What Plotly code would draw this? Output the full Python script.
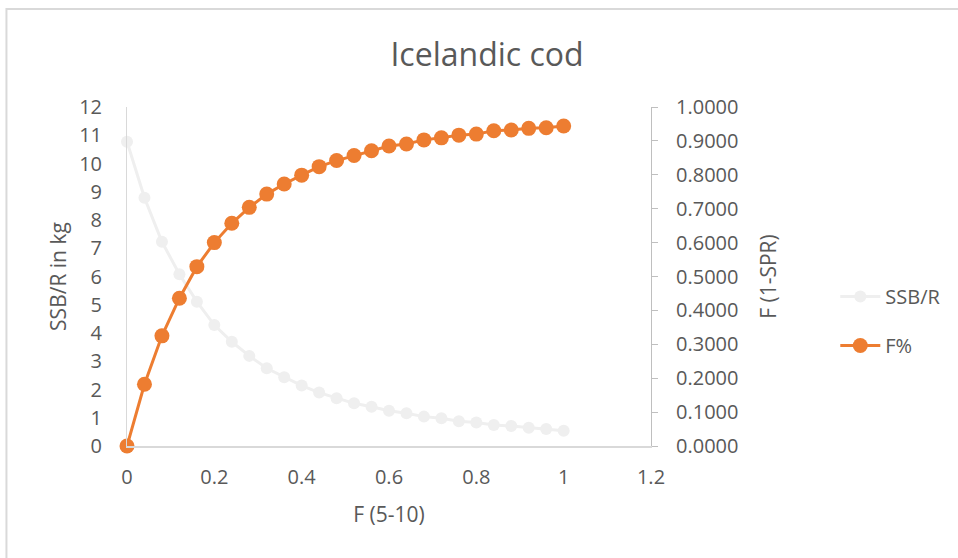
import plotly.graph_objects as go

# Fishing mortality (ages 5-10)
fishing_mortality = [0.00, 0.04, 0.08, 0.12, 0.16, 0.20, 0.24, 0.28, 0.32, 0.36,
                     0.40, 0.44, 0.48, 0.52, 0.56, 0.60, 0.64, 0.68, 0.72, 0.76,
                     0.80, 0.84, 0.88, 0.92, 0.96, 1.00]

# Spawning stock biomass per recruit (kg)
ssb_per_recruit = [10.77, 8.79, 7.23, 6.08, 5.11, 4.28, 3.69, 3.19, 2.75, 2.43,
                   2.14, 1.89, 1.69, 1.51, 1.39, 1.25, 1.16, 1.04, 0.98, 0.88,
                   0.83, 0.74, 0.71, 0.65, 0.60, 0.54]

# F% expressed as 1 - SPR
f_percent = [0.000, 0.182, 0.325, 0.436, 0.529, 0.600, 0.657, 0.704, 0.743, 0.773,
             0.799, 0.824, 0.842, 0.857, 0.871, 0.885, 0.891, 0.903, 0.909, 0.917,
             0.920, 0.930, 0.932, 0.937, 0.939, 0.944]

x_ticks = [0, 0.2, 0.4, 0.6, 0.8, 1, 1.2]
x_tick_text = ["0", "0.2", "0.4", "0.6", "0.8", "1", "1.2"]

FONT = "Open Sans, Segoe UI, sans-serif"
TEXT = "#595959"
ORANGE = "#ED7D31"
LIGHT = "#EFEFEF"

fig = go.Figure()

fig.add_trace(go.Scatter(
    x=fishing_mortality, y=ssb_per_recruit, name="SSB/R",
    mode="lines+markers", legendgroup="a", cliponaxis=False,
    line=dict(color=LIGHT, width=3),
    marker=dict(color=LIGHT, size=12),
    yaxis="y",
))

fig.add_trace(go.Scatter(
    x=fishing_mortality, y=f_percent, name="F%",
    mode="lines+markers", legendgroup="b", cliponaxis=False,
    line=dict(color=ORANGE, width=3),
    marker=dict(color=ORANGE, size=15),
    yaxis="y2",
))

fig.update_layout(
    width=958, height=558,
    margin=dict(l=127, r=305, t=107, b=112),
    paper_bgcolor="white", plot_bgcolor="white",
    font=dict(family=FONT, color=TEXT, size=20),
    showlegend=True,
    title=dict(text="Icelandic cod", x=487 / 958, xref="container", xanchor="center",
               y=1 - 55 / 558, yref="container", yanchor="middle",
               font=dict(size=32, color=TEXT, family=FONT)),
    xaxis=dict(
        range=[0, 1.2], tickvals=x_ticks, ticktext=x_tick_text,
        showgrid=False, zeroline=False,
        showline=True, linecolor="#D9D9D9", linewidth=2,
        ticks="", ticklabelstandoff=12,
        tickfont=dict(size=20, color=TEXT),
        title=dict(text="F (5-10)", font=dict(size=21, color=TEXT), standoff=18),
    ),
    yaxis=dict(
        range=[0, 12], tickvals=list(range(0, 13)),
        showgrid=False, zeroline=False,
        showline=True, linecolor="#D9D9D9", linewidth=1,
        ticks="", ticklabelstandoff=20,
        tickfont=dict(size=20, color=TEXT),
        title=dict(text="SSB/R in kg", font=dict(size=21, color=TEXT), standoff=6),
    ),
    yaxis2=dict(
        range=[0, 1], tickvals=[i / 10 for i in range(11)], tickformat=".4f",
        overlaying="y", side="right",
        showgrid=False, zeroline=False,
        showline=True, linecolor="#BFBFBF", linewidth=1,
        ticks="outside", ticklen=6, tickcolor="#BFBFBF",
        ticklabelstandoff=14,
        tickfont=dict(size=20, color=TEXT),
        title=dict(text="F (1-SPR)", font=dict(size=21, color=TEXT), standoff=23),
    ),
    legend=dict(
        x=(838 - 127) / 526, xanchor="left",
        y=(446 - 321) / 339, yanchor="middle",
        traceorder="grouped", tracegroupgap=20, itemwidth=40,
        font=dict(size=20, color=TEXT),
        bgcolor="rgba(0,0,0,0)",
    ),
    shapes=[dict(
        type="rect", xref="paper", yref="paper",
        x0=(6 - 127) / 526, x1=(1000 - 127) / 526,
        y0=(446 - 640) / 339, y1=(446 - 9) / 339,
        line=dict(color="#D9D9D9", width=2), fillcolor="rgba(0,0,0,0)",
        layer="below",
    )],
)

fig.write_html("out.html")
